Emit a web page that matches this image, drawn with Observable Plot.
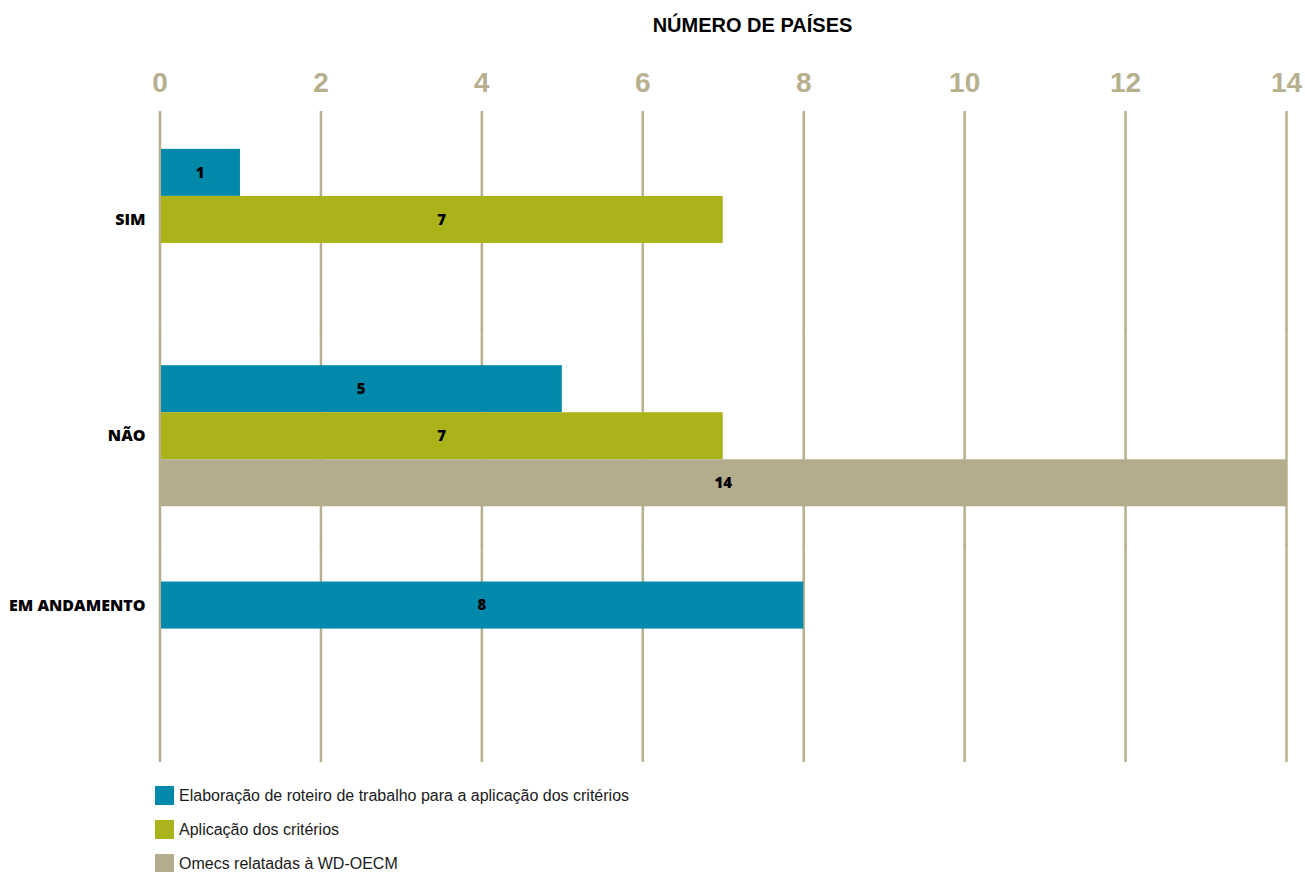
<!DOCTYPE html>
<html>
<head>
<meta charset="utf-8">
<script src="https://cdn.jsdelivr.net/npm/d3@7"></script>
<script src="https://cdn.jsdelivr.net/npm/@observablehq/plot@0.6"></script>
<style>
  html, body { margin: 0; padding: 0; background: #fff; }
  body { width: 1305px; height: 872px; overflow: hidden; }
  #title {
    height: 50px; line-height: 50px; box-sizing: border-box;
    padding-left: 200px; text-align: center;
    font-family: "Liberation Sans", Arial, sans-serif; font-weight: bold;
    font-size: 20px; letter-spacing: 0px; color: #000;
  }
  #chart svg { display: block; }
  #legend {
    padding-top: 11px; margin-left: 155px;
    display: flex; flex-direction: column; gap: 15px;
    font-family: "Liberation Sans", Arial, sans-serif; font-size: 16px; color: #1a1a1a;
  }
  .item { display: flex; align-items: center; height: 19px; }
  .sw { width: 19px; height: 19px; margin-right: 5px; flex: none; }
</style>
</head>
<body>
<div id="title">NÚMERO DE PAÍSES</div>
<div id="chart"></div>
<div id="legend"></div>
<script>
// ---- data ----
const categories = ["SIM", "NÃO", "EM ANDAMENTO"];
const seriesNames = [
  "Elaboração de roteiro de trabalho para a aplicação dos critérios",
  "Aplicação dos critérios",
  "Omecs relatadas à WD-OECM"
];
const roteiroValues = [1, 5, 8];
const aplicacaoValues = [7, 7, null];
const omecsValues = [null, 14, null];
const xTicks = [0, 2, 4, 6, 8, 10, 12, 14];
const seriesColors = ["#0089aa", "#abb31b", "#b4ad8d"];
const tan = "#b7b08f";

// ---- table ----
const seriesValues = [roteiroValues, aplicacaoValues, omecsValues];
const rows = [];
categories.forEach((cat, ci) => {
  seriesNames.forEach((s, si) => {
    const v = seriesValues[si][ci];
    if (v != null) rows.push({cat, series: s, value: v});
  });
});
// category label sits on the middle bar present in its group
const labelRows = categories.map(cat => {
  const present = rows.filter(r => r.cat === cat);
  return {cat, series: present[Math.floor(present.length / 2)].series};
});

const chart = Plot.plot({
  width: 1305,
  height: 725,
  marginLeft: 159.5,
  marginRight: 19,
  marginTop: 62,
  marginBottom: 14,
  x: {domain: [0, 14], axis: null},
  y: {domain: seriesNames, axis: null, paddingInner: 0, paddingOuter: 0.8, align: 0.49, round: false},
  fy: {domain: categories, axis: null, padding: 0, round: false},
  color: {domain: seriesNames, range: seriesColors},
  marks: [
    Plot.gridX(xTicks, {stroke: tan, strokeOpacity: 1, strokeWidth: 2.5, insetTop: -1, insetBottom: -1}),
    Plot.axisX(xTicks, {
      anchor: "top", tickSize: 0, tickPadding: 21, label: null,
      fontSize: 28, fontWeight: "bold", fill: tan,
      fontFamily: "Liberation Sans, Arial, sans-serif",
      tickFormat: d => String(d)
    }),
    Plot.barX(rows, {x: "value", y: "series", fy: "cat", fill: "series", insetLeft: 1.5}),
    Plot.text(rows, {
      x: d => d.value / 2, y: "series", fy: "cat", text: d => String(d.value),
      fontSize: 15, fontWeight: 800, fill: "#000",
      fontFamily: "Open Sans, sans-serif"
    }),
    Plot.text(labelRows, {
      y: "series", fy: "cat", text: "cat", frameAnchor: "left",
      textAnchor: "end", dx: -14.5,
      fontSize: 16, fontWeight: 800, fill: "#000",
      fontFamily: "Open Sans, sans-serif"
    })
  ]
});
document.getElementById("chart").appendChild(chart);

const legend = document.getElementById("legend");
seriesNames.forEach((s, i) => {
  const item = document.createElement("div");
  item.className = "item";
  const sw = document.createElement("span");
  sw.className = "sw";
  sw.style.background = seriesColors[i];
  const label = document.createElement("span");
  label.textContent = s;
  item.appendChild(sw);
  item.appendChild(label);
  legend.appendChild(item);
});
</script>
</body>
</html>
